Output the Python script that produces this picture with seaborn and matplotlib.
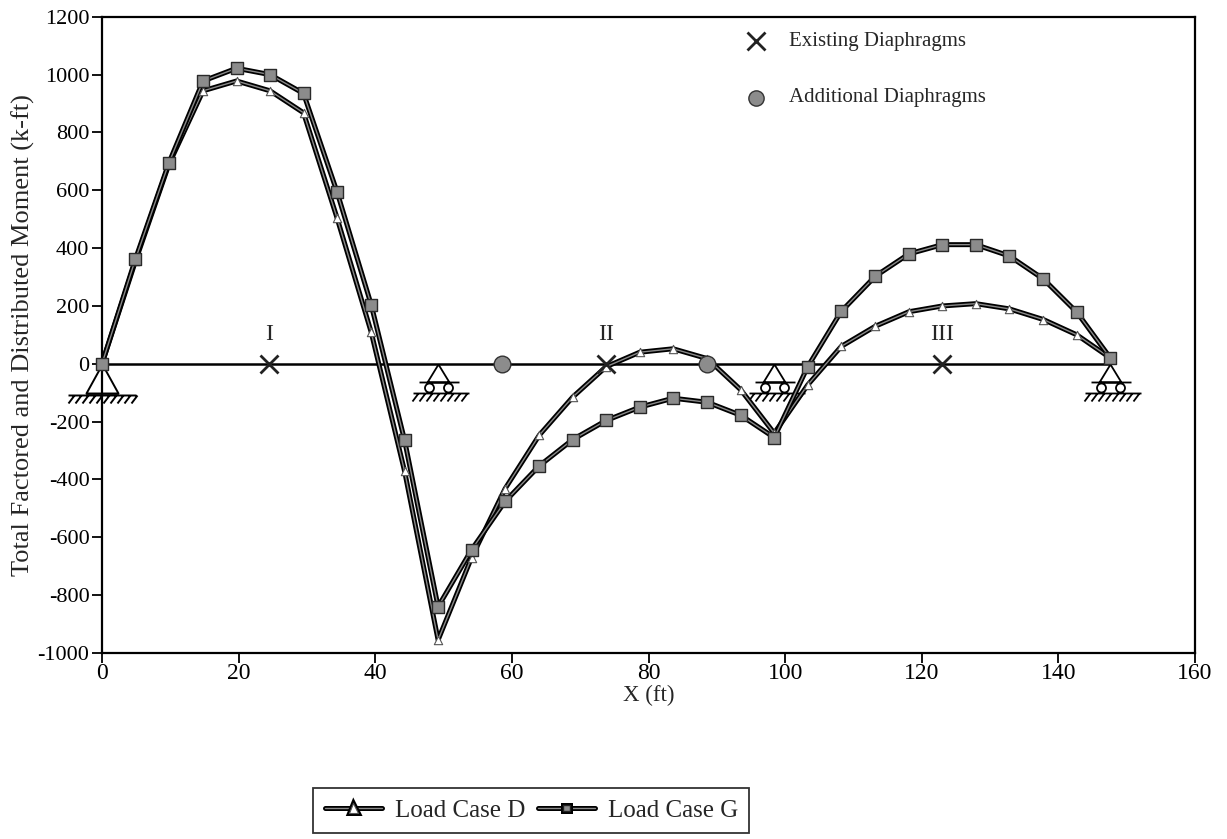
import numpy as np
import pandas as pd
import matplotlib
matplotlib.use("Agg")
import matplotlib.pyplot as plt
import matplotlib.patheffects as pe
from matplotlib.path import Path
import seaborn as sns

# ---------------- data ----------------
x_ft = [0.0, 4.9, 9.8, 14.8, 19.7, 24.6, 29.5, 34.4, 39.4, 44.3, 49.2,
        54.1, 59.0, 64.0, 68.9, 73.8, 78.7, 83.6, 88.6, 93.5, 98.4,
        103.3, 108.2, 113.2, 118.1, 123.0, 127.9, 132.8, 137.8, 142.7, 147.6]
load_case_d = [0, 355, 690, 944, 978, 944, 868, 505, 110, -372, -955,
               -670, -432, -247, -115, -10, 40, 52, 18, -90, -240,
               -73, 60, 130, 180, 200, 208, 190, 153, 100, 20]
load_case_g = [0, 362, 695, 978, 1022, 1000, 935, 595, 205, -265, -840,
               -643, -476, -353, -262, -196, -150, -119, -133, -178, -255,
               -10, 181, 303, 380, 412, 412, 373, 293, 178, 20]

existing_x = [24.5, 73.8, 123.0]
existing_labels = ["I", "II", "III"]
additional_x = [58.6, 88.6]
pin_x = [0.0]
roller_x = [49.2, 98.4, 147.6]

x_ticks = [0, 20, 40, 60, 80, 100, 120, 140, 160]
y_ticks = [-1000, -800, -600, -400, -200, 0, 200, 400, 600, 800, 1000, 1200]

df = pd.DataFrame({"x": x_ft * 2,
                   "M": load_case_d + load_case_g,
                   "case": ["Load Case D"] * len(x_ft) + ["Load Case G"] * len(x_ft)})

# ---------------- style ----------------
sns.set_style("white")
plt.rcParams["font.family"] = ["Liberation Serif", "DejaVu Serif"]
plt.rcParams["axes.unicode_minus"] = False

fig = plt.figure(figsize=(12.27, 8.39), dpi=100)
ax = fig.add_axes([0.0831, 0.2217, 0.8909, 0.7583])

# support symbols as custom marker paths (pixel-like units, apex at origin)
def pin_path():
    verts, codes = [], []
    verts += [(0, 0), (-16, -29), (16, -29), (0, 0)]
    codes += [Path.MOVETO, Path.LINETO, Path.LINETO, Path.LINETO]
    verts += [(-34, -31), (34, -31)]
    codes += [Path.MOVETO, Path.LINETO]
    for xx in range(-28, 36, 7):
        verts += [(xx, -31), (xx - 6, -39)]
        codes += [Path.MOVETO, Path.LINETO]
    return Path(verts, codes)

def roller_path():
    parts = []
    v = [(0, 0), (-11, -18), (11, -18), (0, 0), (-19, -18), (21, -18),
         (-25, -29), (31, -29)]
    c = [Path.MOVETO, Path.LINETO, Path.LINETO, Path.LINETO,
         Path.MOVETO, Path.LINETO, Path.MOVETO, Path.LINETO]
    for xx in range(-20, 33, 7):
        v += [(xx, -29), (xx - 6, -37)]
        c += [Path.MOVETO, Path.LINETO]
    parts.append(Path(v, c))
    for cx in (-9, 10):
        parts.append(Path.circle((cx, -23.5), 4.5))
    return Path.make_compound_path(*parts)

# beam line
ax.plot([pin_x[0], roller_x[-1]], [0, 0], color="black", lw=1.8, zorder=2)

# supports
ax.plot(pin_x, [0] * len(pin_x), linestyle="none", marker=pin_path(),
        markersize=2 * 39 / 1.389, markerfacecolor="none",
        markeredgecolor="black", markeredgewidth=1.4, zorder=3, clip_on=False)
ax.plot(roller_x, [0] * len(roller_x), linestyle="none", marker=roller_path(),
        markersize=2 * 37 / 1.389, markerfacecolor="none",
        markeredgecolor="black", markeredgewidth=1.3, zorder=3, clip_on=False)

# load case lines (outlined look) then markers
line_fx = [pe.Stroke(linewidth=3.6, foreground="black"), pe.Normal()]
for case, z in (("Load Case D", 4), ("Load Case G", 5)):
    l = sns.lineplot(data=df[df.case == case], x="x", y="M", ax=ax,
                     color="#8a8a8a", lw=1.0, zorder=z, legend=False)
    l.lines[-1].set_path_effects(line_fx)

sns.scatterplot(data=df[df.case == "Load Case D"], x="x", y="M", ax=ax,
                marker="^", s=36, color="white", edgecolor="#555555",
                linewidth=0.8, zorder=6, legend=False, clip_on=False)
sns.scatterplot(data=df[df.case == "Load Case G"], x="x", y="M", ax=ax,
                marker="s", s=70, color="#8c8c8c", edgecolor="#2a2a2a",
                linewidth=1.0, zorder=7, legend=False, clip_on=False)

# diaphragms
ax.plot(existing_x, [0] * len(existing_x), linestyle="none", marker="x",
        markersize=13, markeredgewidth=2.0, color="#222222", zorder=8)
for xx, lab in zip(existing_x, existing_labels):
    ax.text(xx, 65, lab, ha="center", va="bottom", fontsize=17)
ax.plot(additional_x, [0] * len(additional_x), linestyle="none", marker="o",
        markersize=12, markerfacecolor="#8c8c8c", markeredgecolor="#333333",
        markeredgewidth=1.0, zorder=8)

# in-plot key
ax.plot([95.8], [1115], linestyle="none", marker="x", markersize=13,
        markeredgewidth=2.0, color="#222222")
ax.text(100.5, 1115, "Existing Diaphragms", va="center", ha="left", fontsize=15)
ax.plot([95.8], [920], linestyle="none", marker="o", markersize=11,
        markerfacecolor="#8c8c8c", markeredgecolor="#333333")
ax.text(100.5, 920, "Additional Diaphragms", va="center", ha="left", fontsize=15)

# axes
ax.set_xlim(0, 160)
ax.set_ylim(-1000, 1200)
ax.set_xticks(x_ticks)
ax.set_yticks(y_ticks)
ax.tick_params(axis="both", direction="out", length=7, width=1.3,
               colors="black", left=True, bottom=True)
ax.tick_params(axis="x", labelsize=17, pad=0)
ax.tick_params(axis="y", labelsize=16, pad=2)
for s in ax.spines.values():
    s.set_color("black")
    s.set_linewidth(1.6)
ax.set_xlabel("X (ft)", fontsize=16.5, labelpad=1)
ax.set_ylabel("Total Factored and Distributed Moment (k-ft)", fontsize=19,
              labelpad=2)

# bottom legend
handles = [
    plt.Line2D([], [], color="#8a8a8a", lw=1.0, marker="^", markersize=7,
               markerfacecolor="white", markeredgecolor="#555555",
               markeredgewidth=0.8, path_effects=line_fx),
    plt.Line2D([], [], color="#8a8a8a", lw=1.0, marker="s", markersize=5,
               markerfacecolor="#8c8c8c", markeredgecolor="#222222",
               path_effects=line_fx),
]
leg = fig.legend(handles, ["Load Case D", "Load Case G"], loc="center",
                 bbox_to_anchor=(0.433, 0.034), ncol=2, fontsize=18,
                 frameon=True, fancybox=False, edgecolor="black",
                 handlelength=2.3, handletextpad=0.5, columnspacing=0.5,
                 borderpad=0.45, borderaxespad=0)
leg.get_frame().set_linewidth(1.3)

fig.savefig("out.png", dpi=100)
